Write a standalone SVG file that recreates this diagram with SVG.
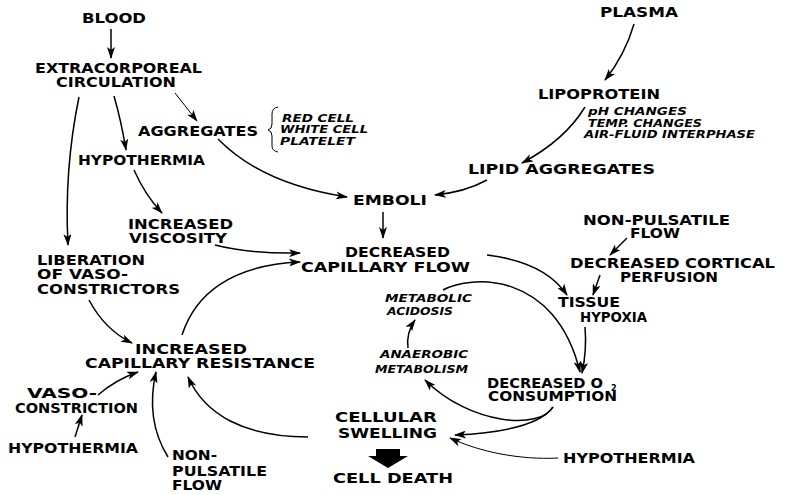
<svg xmlns="http://www.w3.org/2000/svg" width="787" height="495" viewBox="0 0 787 495">
<style>
text{font-family:"DejaVu Sans","Liberation Sans",sans-serif;font-weight:bold;fill:#000}
.m{font-size:13.5px}
.i{font-size:10px;font-style:italic}
.c{fill:none;stroke:#000;stroke-width:1.5;marker-end:url(#ah)}
.t{stroke-width:1}
</style>
<defs>
<marker id="ah" markerUnits="userSpaceOnUse" markerWidth="12" markerHeight="8" refX="11" refY="4" orient="auto">
<path d="M0,0 L12,4 L0,8 L3,4 Z" fill="#000"/>
</marker>
</defs>
<rect width="787" height="495" fill="#fff"/>
<g id="connectors">
<path class="c" d="M111 29 L111 58"/>
<path class="c t" d="M175 93 L197 121"/>
<path class="c" d="M114 96 Q121 120 126 150"/>
<path class="c" d="M79 97 Q64 170 68 245"/>
<path class="c" d="M218 139 Q262 184 347 197"/>
<path class="c" d="M134 170 Q145 195 162 213"/>
<path class="c" d="M215 245 Q250 254 300 253"/>
<path class="c" d="M182 335 C195 295 230 265 300 262"/>
<path class="c" d="M89 300 Q105 330 132 343"/>
<path class="c" d="M98 395 Q115 380 138 372"/>
<path class="c" d="M75 437 L82 415"/>
<path class="c" d="M168 457 Q145 420 156 372"/>
<path class="c" d="M308 437 C245 437 205 415 188 377"/>
<path class="c" d="M634 24 Q625 55 605 80"/>
<path class="c" d="M585 107 Q565 140 522 163"/>
<path class="c" d="M487 180 Q465 192 435 195"/>
<path class="c" d="M383 212 L383 238"/>
<path class="c" d="M487 255 Q545 262 567 295"/>
<path class="c" d="M627 238 L610 255"/>
<path class="c" d="M600 275 L593 295"/>
<path class="c" d="M585 327 Q587 350 582 373"/>
<path class="c" d="M443 290 C470 275 555 270 580 372"/>
<path class="c" d="M408 348 Q406 333 415 320"/>
<path class="c" d="M553 407 C540 430 470 425 425 380"/>
<path class="c" d="M553 407 C540 425 500 433 455 435"/>
<path class="c t" d="M558 458 C520 460 480 452 450 438"/>
<path d="M278 107 Q272 108 272 114 L272 124 Q272 129 268 130 Q272 131 272 136 L272 146 Q272 151 278 152" fill="none" stroke="#000" stroke-width="1"/>
<polygon points="376,449 400,449 400,456 408,456 388,468 368,456 376,456" fill="#000"/>
</g>
<g id="blood"><text class="m" x="82" y="23" textLength="64" lengthAdjust="spacingAndGlyphs">BLOOD</text></g>
<g id="extracorporeal"><text class="m"><tspan x="35" y="73" textLength="167" lengthAdjust="spacingAndGlyphs">EXTRACORPOREAL</tspan><tspan x="56" y="87" textLength="120" lengthAdjust="spacingAndGlyphs">CIRCULATION</tspan></text></g>
<g id="aggregates"><text class="m" x="138" y="136" textLength="120" lengthAdjust="spacingAndGlyphs">AGGREGATES</text></g>
<g id="aggregate-types"><text class="i"><tspan x="282" y="122" textLength="72" lengthAdjust="spacingAndGlyphs">RED CELL</tspan><tspan x="280" y="133" textLength="88" lengthAdjust="spacingAndGlyphs">WHITE CELL</tspan><tspan x="280" y="145" textLength="75" lengthAdjust="spacingAndGlyphs">PLATELET</tspan></text></g>
<g id="hypothermia1"><text class="m" x="78" y="165" textLength="127" lengthAdjust="spacingAndGlyphs">HYPOTHERMIA</text></g>
<g id="plasma"><text class="m" x="600" y="17" textLength="78" lengthAdjust="spacingAndGlyphs">PLASMA</text></g>
<g id="lipoprotein"><text class="m" x="538" y="99" textLength="122" lengthAdjust="spacingAndGlyphs">LIPOPROTEIN</text></g>
<g id="lipo-factors"><text class="i"><tspan x="588" y="115" textLength="99" lengthAdjust="spacingAndGlyphs">pH CHANGES</tspan><tspan x="588" y="127" textLength="114" lengthAdjust="spacingAndGlyphs">TEMP. CHANGES</tspan><tspan x="584" y="138" textLength="171" lengthAdjust="spacingAndGlyphs">AIR-FLUID INTERPHASE</tspan></text></g>
<g id="lipid-aggregates"><text class="m" x="468" y="174" textLength="187" lengthAdjust="spacingAndGlyphs">LIPID  AGGREGATES</text></g>
<g id="emboli"><text class="m" x="353" y="205" textLength="74" lengthAdjust="spacingAndGlyphs">EMBOLI</text></g>
<g id="viscosity"><text class="m"><tspan x="128" y="229" textLength="105" lengthAdjust="spacingAndGlyphs">INCREASED</tspan><tspan x="129" y="243" textLength="98" lengthAdjust="spacingAndGlyphs">VISCOSITY</tspan></text></g>
<g id="liberation"><text class="m"><tspan x="37" y="265" textLength="108" lengthAdjust="spacingAndGlyphs">LIBERATION</tspan><tspan x="37" y="279" textLength="91" lengthAdjust="spacingAndGlyphs">OF VASO-</tspan><tspan x="37" y="294" textLength="143" lengthAdjust="spacingAndGlyphs">CONSTRICTORS</tspan></text></g>
<g id="capillary-flow"><text class="m"><tspan x="345" y="257" textLength="105" lengthAdjust="spacingAndGlyphs">DECREASED</tspan><tspan x="301" y="272" textLength="169" lengthAdjust="spacingAndGlyphs">CAPILLARY FLOW</tspan></text></g>
<g id="nonpulsatile1"><text class="m"><tspan x="583" y="225" textLength="147" lengthAdjust="spacingAndGlyphs">NON-PULSATILE</tspan><tspan x="630" y="238" textLength="50" lengthAdjust="spacingAndGlyphs">FLOW</tspan></text></g>
<g id="cortical"><text class="m"><tspan x="570" y="268" textLength="205" lengthAdjust="spacingAndGlyphs">DECREASED CORTICAL</tspan><tspan x="620" y="282" textLength="98" lengthAdjust="spacingAndGlyphs">PERFUSION</tspan></text></g>
<g id="tissue-hypoxia"><text class="m"><tspan x="558" y="307" textLength="62" lengthAdjust="spacingAndGlyphs">TISSUE</tspan><tspan x="580" y="322" textLength="67" lengthAdjust="spacingAndGlyphs">HYPOXIA</tspan></text></g>
<g id="acidosis"><text class="i"><tspan x="385" y="302" textLength="87" lengthAdjust="spacingAndGlyphs">METABOLIC</tspan><tspan x="387" y="315" textLength="66" lengthAdjust="spacingAndGlyphs">ACIDOSIS</tspan></text></g>
<g id="anaerobic"><text class="i"><tspan x="380" y="358" textLength="88" lengthAdjust="spacingAndGlyphs">ANAEROBIC</tspan><tspan x="375" y="373" textLength="93" lengthAdjust="spacingAndGlyphs">METABOLISM</tspan></text></g>
<g id="capillary-resistance"><text class="m"><tspan x="135" y="354" textLength="112" lengthAdjust="spacingAndGlyphs">INCREASED</tspan><tspan x="85" y="368" textLength="230" lengthAdjust="spacingAndGlyphs">CAPILLARY RESISTANCE</tspan></text></g>
<g id="o2-consumption"><text class="m"><tspan x="487" y="388" textLength="116" lengthAdjust="spacingAndGlyphs">DECREASED O</tspan><tspan x="611" y="391" style="font-size:8px">2</tspan><tspan x="488" y="401" textLength="129" lengthAdjust="spacingAndGlyphs">CONSUMPTION</tspan></text></g>
<g id="vasoconstriction"><text class="m"><tspan x="27" y="398" textLength="70" lengthAdjust="spacingAndGlyphs">VASO-</tspan><tspan x="15" y="413" textLength="123" lengthAdjust="spacingAndGlyphs">CONSTRICTION</tspan></text></g>
<g id="hypothermia2"><text class="m" x="8" y="453" textLength="130" lengthAdjust="spacingAndGlyphs">HYPOTHERMIA</text></g>
<g id="nonpulsatile2"><text class="m"><tspan x="172" y="460" textLength="45" lengthAdjust="spacingAndGlyphs">NON-</tspan><tspan x="172" y="476" textLength="95" lengthAdjust="spacingAndGlyphs">PULSATILE</tspan><tspan x="172" y="490" textLength="50" lengthAdjust="spacingAndGlyphs">FLOW</tspan></text></g>
<g id="cellular-swelling"><text class="m"><tspan x="335" y="422" textLength="102" lengthAdjust="spacingAndGlyphs">CELLULAR</tspan><tspan x="338" y="438" textLength="99" lengthAdjust="spacingAndGlyphs">SWELLING</tspan></text></g>
<g id="cell-death"><text class="m" x="333" y="483" textLength="120" lengthAdjust="spacingAndGlyphs">CELL DEATH</text></g>
<g id="hypothermia3"><text class="m" x="563" y="463" textLength="132" lengthAdjust="spacingAndGlyphs">HYPOTHERMIA</text></g>
</svg>
